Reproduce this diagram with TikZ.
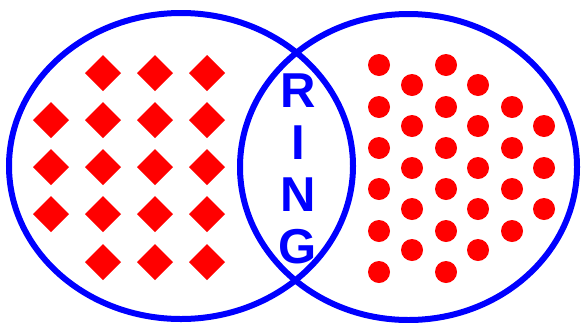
\documentclass[tikz,border=0pt]{standalone}
\usepackage{fontspec}
\setmainfont{Liberation Sans}
\definecolor{ringblue}{RGB}{0,0,255}
\definecolor{ringred}{RGB}{255,0,0}
\begin{document}
\begin{tikzpicture}[x=1pt,y=-1pt,
  ringline/.style={draw=ringblue,line width=6pt},
  gem/.style={fill=ringred},
  dot/.style={fill=ringred},
  letter/.style={text=ringblue,font=\fontsize{49}{49}\selectfont\bfseries,inner sep=0pt,anchor=base}]
\useasboundingbox (0,0) rectangle (585,322);
% ellipses
\draw[ringline] (181,166) ellipse [x radius=172, y radius=153];
\draw[ringline] (408.5,167) ellipse [x radius=168.5, y radius=153];
% diamonds
\foreach \y/\xs in {73/{103,155,207},120/{51,103,155,207},167/{51,103,155,207},214/{51,103,155,207},262/{103,155,207}}{
  \foreach \x in \xs {
    \fill[gem] (\x-18,\y) -- (\x,\y-18) -- (\x+18,\y) -- (\x,\y+18) -- cycle;
  }
}
% dots
\foreach \x/\ys in {379/{65,107,148,189,231,272},412/{85,126,168,209,250},446/{65,107,148,189,231,272},478/{85,126,168,209,250},512/{107,148,189,231},544/{126,168,209}}{
  \foreach \y in \ys {
    \fill[dot] (\x,\y) circle [radius=11];
  }
}
% letters
\node[letter] (r) at (298,107) {R};
\node[letter] (i) at (298,159) {I};
\node[letter] (n) at (298,211) {N};
\node[letter] (g) at (298,263) {G};
\end{tikzpicture}
\end{document}
